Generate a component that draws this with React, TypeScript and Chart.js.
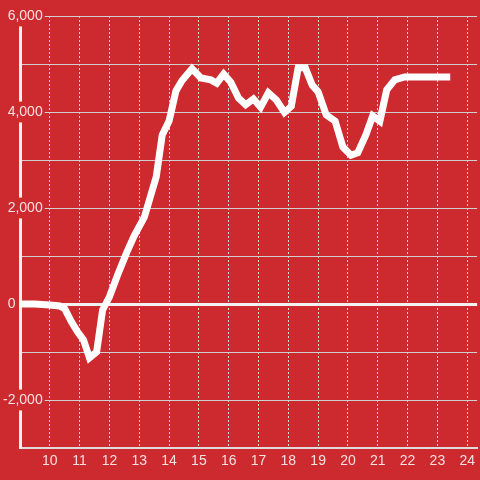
import React, { useEffect, useRef } from "react";
import { Chart, registerables } from "chart.js";

Chart.register(...registerables);

// Time of day (hours) and running value
const hours = [
  9.0, 9.5, 10.0, 10.33, 10.5, 10.73, 10.93, 11.13, 11.33, 11.57,
  11.77, 12.0, 12.27, 12.57, 12.83, 13.17, 13.57, 13.77, 14.0, 14.23,
  14.43, 14.77, 15.07, 15.4, 15.6, 15.83, 16.07, 16.33, 16.57, 16.83,
  17.07, 17.33, 17.6, 17.87, 18.1, 18.33, 18.57, 18.8, 19.0, 19.27,
  19.57, 19.83, 20.1, 20.33, 20.6, 20.83, 21.07, 21.3, 21.57, 21.9, 23.43,
];
const values = [
  0, 0, -20, -40, -100, -375, -580, -750, -1120, -1000,
  -125, 150, 600, 1060, 1420, 1810, 2650, 3520, 3810, 4440,
  4650, 4900, 4710, 4670, 4600, 4790, 4620, 4290, 4150, 4270,
  4100, 4400, 4250, 3990, 4120, 4920, 4920, 4560, 4420, 3940,
  3810, 3270, 3100, 3150, 3520, 3920, 3810, 4460, 4670, 4730, 4730,
];
const xTicks = [10, 11, 12, 13, 14, 15, 16, 17, 18, 19, 20, 21, 22, 23, 24];
const yLabelled = [-2000, 0, 2000, 4000, 6000];

const RED = "#CC2A2E";
const FONT = "'Liberation Sans', Arial, sans-serif";

export default function App() {
  const ref = useRef<HTMLCanvasElement>(null);

  useEffect(() => {
    if (!ref.current) return;
    const chart = new Chart(ref.current, {
      type: "line",
      data: {
        datasets: [
          {
            data: hours.map((h, i) => ({ x: h, y: values[i] })),
            borderColor: "#ffffff",
            borderWidth: 7,
            pointRadius: 0,
            tension: 0,
            fill: false,
          },
        ],
      },
      options: {
        animation: false,
        responsive: false,
        maintainAspectRatio: false,
        layout: { padding: { top: 16, left: 0, right: 0, bottom: 0 } },
        plugins: { legend: { display: false }, tooltip: { enabled: false } },
        scales: {
          x: {
            type: "linear",
            min: 9,
            max: 24.333,
            afterBuildTicks: (scale: any) => {
              scale.ticks = xTicks.map((v) => ({ value: v }));
            },
            afterFit: (scale: any) => {
              scale.height = 32;
            },
            grid: { color: "#d8d8d8", lineWidth: 1, drawTicks: false },
            border: { display: true, color: "#dcdcdc", width: 2, dash: [2, 2] },
            ticks: {
              color: "rgba(255,255,255,0.85)",
              padding: 5,
              maxRotation: 0,
              autoSkip: false,
              font: { family: FONT, size: 14 },
              callback: (v: any) => String(v),
            },
          },
          y: {
            type: "linear",
            min: -3000,
            max: 6000,
            afterFit: (scale: any) => {
              scale.width = 20;
            },
            grid: {
              drawTicks: false,
              color: (ctx: any) => (ctx.tick && ctx.tick.value === 0 ? "#f2f2f2" : "#cfcfcf"),
              lineWidth: (ctx: any) => (ctx.tick && ctx.tick.value === 0 ? 3 : 1),
            },
            border: { display: true, color: "#f2f2f2", width: 3 },
            ticks: {
              stepSize: 1000,
              mirror: true,
              crossAlign: "far",
              padding: -17,
              color: "rgba(255,255,255,0.85)",
              font: { family: FONT, size: 14 },
              showLabelBackdrop: (ctx: any) =>
                ctx.tick.value !== 0 && yLabelled.includes(ctx.tick.value),
              backdropColor: RED,
              backdropPadding: 2,
              callback: (v: any) => {
                const n = Number(v);
                if (!yLabelled.includes(n)) return "";
                if (n === 0) return "0       ";
                return n.toLocaleString("en-US");
              },
            },
          },
        },
      } as any,
    });
    return () => chart.destroy();
  }, []);

  return (
    <div
      style={{
        position: "fixed",
        left: 0,
        top: 0,
        width: 480,
        height: 480,
        background: RED,
      }}
    >
      <canvas ref={ref} width={480} height={480} style={{ display: "block" }} />
    </div>
  );
}
